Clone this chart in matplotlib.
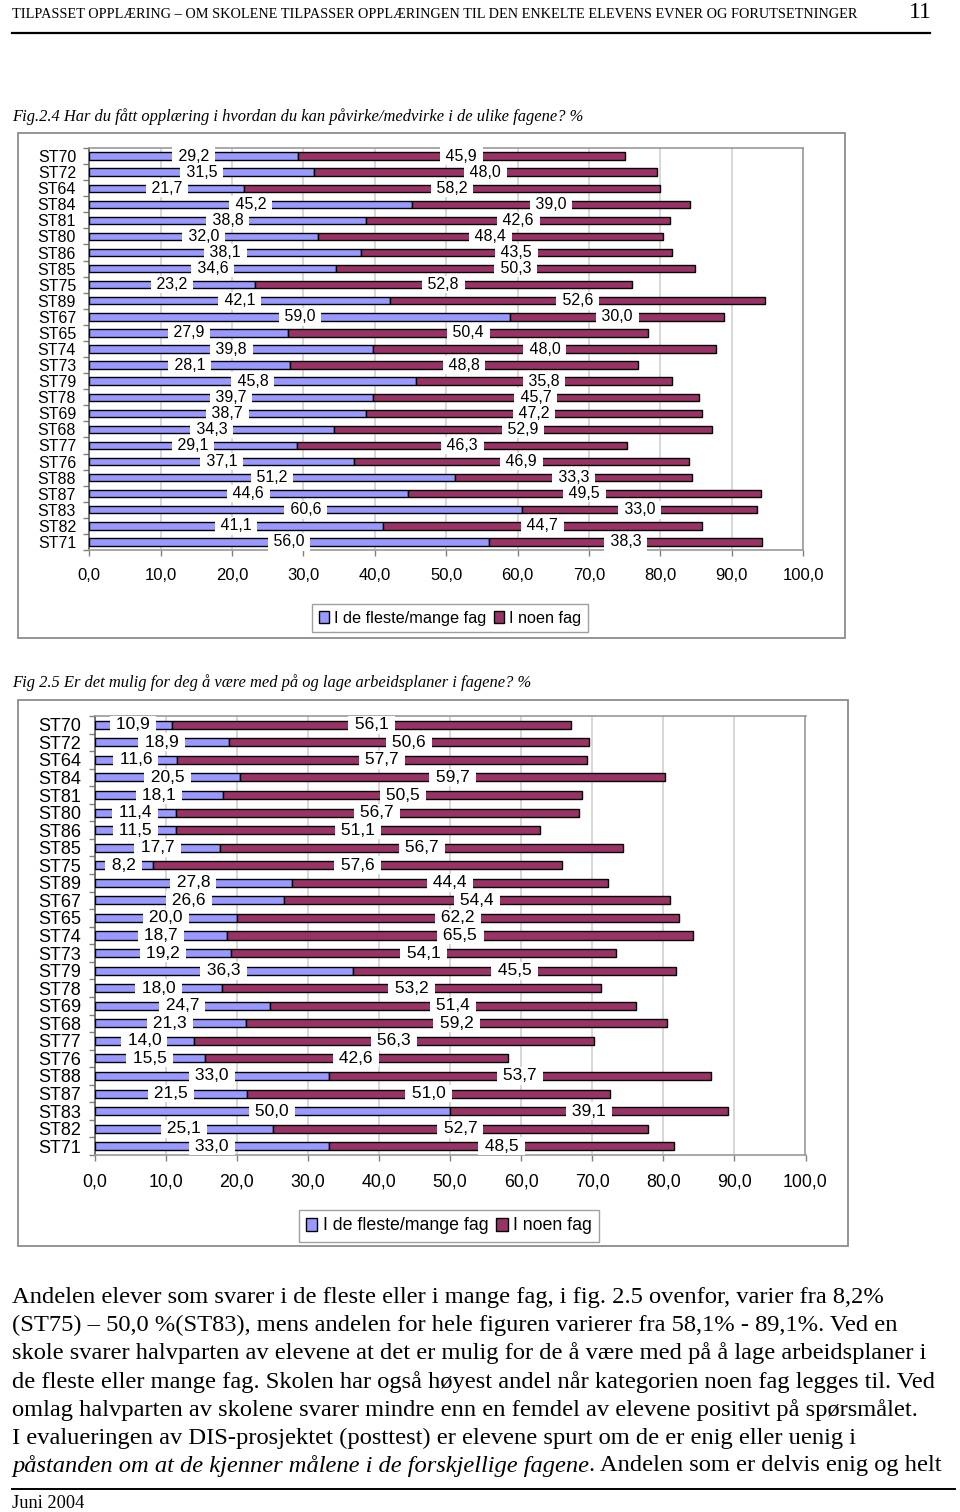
import matplotlib
matplotlib.use('Agg')
import matplotlib.pyplot as plt
import numpy as np
from matplotlib.patches import Rectangle
from matplotlib.lines import Line2D

plt.rcParams['font.family'] = ['Liberation Sans', 'DejaVu Sans']

# ---------------- data ----------------
schools = ["ST70", "ST72", "ST64", "ST84", "ST81", "ST80", "ST86", "ST85", "ST75",
           "ST89", "ST67", "ST65", "ST74", "ST73", "ST79", "ST78", "ST69", "ST68",
           "ST77", "ST76", "ST88", "ST87", "ST83", "ST82", "ST71"]

fig24_many = [29.2, 31.5, 21.7, 45.2, 38.8, 32.0, 38.1, 34.6, 23.2, 42.1, 59.0, 27.9,
              39.8, 28.1, 45.8, 39.7, 38.7, 34.3, 29.1, 37.1, 51.2, 44.6, 60.6, 41.1, 56.0]
fig24_some = [45.9, 48.0, 58.2, 39.0, 42.6, 48.4, 43.5, 50.3, 52.8, 52.6, 30.0, 50.4,
              48.0, 48.8, 35.8, 45.7, 47.2, 52.9, 46.3, 46.9, 33.3, 49.5, 33.0, 44.7, 38.3]

fig25_many = [10.9, 18.9, 11.6, 20.5, 18.1, 11.4, 11.5, 17.7, 8.2, 27.8, 26.6, 20.0,
              18.7, 19.2, 36.3, 18.0, 24.7, 21.3, 14.0, 15.5, 33.0, 21.5, 50.0, 25.1, 33.0]
fig25_some = [56.1, 50.6, 57.7, 59.7, 50.5, 56.7, 51.1, 56.7, 57.6, 44.4, 54.4, 62.2,
              65.5, 54.1, 45.5, 53.2, 51.4, 59.2, 56.3, 42.6, 53.7, 51.0, 39.1, 52.7, 48.5]

series_names = ["I de fleste/mange fag", "I noen fag"]
xtick_values = [0, 10, 20, 30, 40, 50, 60, 70, 80, 90, 100]
xtick_labels = ["0,0", "10,0", "20,0", "30,0", "40,0", "50,0", "60,0", "70,0", "80,0", "90,0", "100,0"]

header_text = ("TILPASSET OPPLÆRING \u2013 OM SKOLENE TILPASSER OPPLÆRINGEN TIL DEN ENKELTE "
               "ELEVENS EVNER OG FORUTSETNINGER")
page_number = "11"
caption1 = "Fig.2.4 Har du fått opplæring i hvordan du kan påvirke/medvirke i de ulike fagene? %"
caption2 = "Fig 2.5 Er det mulig for deg å være med på og lage arbeidsplaner i fagene? %"
paragraph = [
    "Andelen elever som svarer i de fleste eller i mange fag, i fig. 2.5 ovenfor, varier fra 8,2%",
    "(ST75) \u2013 50,0 %(ST83), mens andelen for hele figuren varierer fra 58,1% - 89,1%. Ved en",
    "skole svarer halvparten av elevene at det er mulig for de å være med på å lage arbeidsplaner i",
    "de fleste eller mange fag. Skolen har også høyest andel når kategorien noen fag legges til. Ved",
    "omlag halvparten av skolene svarer mindre enn en femdel av elevene positivt på spørsmålet.",
    "I evalueringen av DIS-prosjektet (posttest) er elevene spurt om de er enig eller uenig i",
]
last_line_italic = "påstanden om at de kjenner målene i de forskjellige fagene"
last_line_rest = ". Andelen som er delvis enig og helt"
footer_text = "Juni 2004"

C_MANY = '#9999FF'
C_SOME = '#993366'

# ---------------- figure ----------------
W, H = 960, 1512
fig = plt.figure(figsize=(W / 100, H / 100), dpi=100)
renderer = fig.canvas.get_renderer()


def fx(px):
    return px / W


def fy(py):
    return 1 - py / H


def add_axes_px(l, t, r, b):
    return fig.add_axes([l / W, 1 - b / H, (r - l) / W, (b - t) / H])


def fit_text(x, y, s, width_px, **kw):
    t = fig.text(fx(x), fy(y), s, fontsize=10, **kw)
    w = t.get_window_extent(renderer).width
    t.set_fontsize(10 * width_px / w)
    return t


def frame(l, t, r, b):
    fig.patches.append(Rectangle((fx(l), fy(b)), (r - l) / W, (b - t) / H,
                                 transform=fig.transFigure, fill=False,
                                 ec='#8c8c8c', lw=1.3, zorder=0))


def hline(x0, x1, y, lw):
    fig.add_artist(Line2D([fx(x0), fx(x1)], [fy(y), fy(y)], color='black', lw=lw,
                          transform=fig.transFigure))


def draw_chart(ax, many, some, fs_lab, fs_ytick, fs_xtick, ypad):
    y = np.arange(len(schools))
    many = np.array(many)
    some = np.array(some)
    ax.barh(y, many, height=0.46, color=C_MANY, edgecolor='black', lw=1.0, zorder=3)
    ax.barh(y, some, left=many, height=0.46, color=C_SOME, edgecolor='black', lw=1.0, zorder=3)
    for yi, a, b in zip(y, many, some):
        for xc, v in ((a / 2, a), (a + b / 2, b)):
            ax.text(xc, yi, " " + f"{v:.1f}".replace('.', ',') + " ", ha='center', va='center',
                    fontsize=fs_lab, zorder=6,
                    bbox=dict(boxstyle='square,pad=0.08', fc='white', ec='none'))
    ax.set_xlim(0, 100)
    ax.set_ylim(len(schools) - 0.5, -0.5)
    ax.set_yticks(y)
    ax.set_yticklabels(schools, fontsize=fs_ytick)
    ax.set_yticks(np.arange(-0.5, len(schools)), minor=True)
    ax.tick_params(axis='y', which='major', length=0, pad=ypad)
    ax.tick_params(axis='y', which='minor', length=4, color='#808080', width=1)
    ax.set_xticks(xtick_values)
    ax.set_xticklabels(xtick_labels, fontsize=fs_xtick)
    ax.tick_params(axis='x', length=4, color='#808080', width=1, pad=9)
    ax.grid(axis='x', color='#d4d4d4', lw=1.3, zorder=0)
    ax.set_axisbelow(True)
    for side in ('top', 'right', 'bottom'):
        ax.spines[side].set_color('#9a9a9a')
        ax.spines[side].set_linewidth(1.2)
    ax.spines['left'].set_color('#606060')
    ax.spines['left'].set_linewidth(1.2)


def legend_at(cx, cy, fs):
    handles = [Rectangle((0, 0), 1, 1, fc=C_MANY, ec='black', lw=1.0),
               Rectangle((0, 0), 1, 1, fc=C_SOME, ec='black', lw=1.0)]
    leg = fig.legend(handles, series_names, loc='center', bbox_to_anchor=(fx(cx), fy(cy)),
                     ncol=2, fontsize=fs, frameon=True, fancybox=False,
                     edgecolor='#a0a0a0', framealpha=1, handlelength=0.65,
                     handleheight=0.75, handletextpad=0.3, columnspacing=0.45,
                     borderpad=0.4, borderaxespad=0)
    leg.get_frame().set_linewidth(1.0)


# ---------------- header ----------------
fit_text(12, 14, header_text, 840, family=['Liberation Serif'], va='center', ha='left')
fig.text(fx(932), fy(12), page_number, fontsize=17, family=['Liberation Serif'],
         va='center', ha='right')
hline(12, 930, 33, 1.6)

# ---------------- chart 1 ----------------
fit_text(12, 117, caption1, 573, family=['Liberation Serif'], style='italic',
         va='center', ha='left')
frame(18, 133, 845, 638)
ax1 = add_axes_px(89.3, 148, 803, 550)
draw_chart(ax1, fig24_many, fig24_some, fs_lab=11.5, fs_ytick=11.5, fs_xtick=12, ypad=9.5)
legend_at(450, 618, 11.7)

# ---------------- chart 2 ----------------
fit_text(12, 683, caption2, 521, family=['Liberation Serif'], style='italic',
         va='center', ha='left')
frame(18, 700, 848, 1246)
ax2 = add_axes_px(94.5, 716, 805.5, 1155)
draw_chart(ax2, fig25_many, fig25_some, fs_lab=12.5, fs_ytick=13, fs_xtick=12.8, ypad=9.5)
legend_at(449, 1226, 12.8)

# ---------------- paragraph ----------------
t0 = fit_text(12, 1297, paragraph[0], 870, family=['Liberation Serif'], va='center', ha='left')
pfs = t0.get_fontsize()
line_y = [1297, 1325, 1353, 1382, 1410, 1438, 1466]
for s, yy in zip(paragraph[1:], line_y[1:-1]):
    fig.text(fx(12), fy(yy), s, fontsize=pfs, family=['Liberation Serif'], va='center', ha='left')
ti = fig.text(fx(12), fy(line_y[-1]), last_line_italic, fontsize=pfs,
              family=['Liberation Serif'], style='italic', va='center', ha='left')
wi = ti.get_window_extent(renderer).width
fig.text(fx(12 + wi), fy(line_y[-1]), last_line_rest, fontsize=pfs,
         family=['Liberation Serif'], va='center', ha='left')

# ---------------- footer ----------------
hline(12, 955, 1489, 1.4)
fit_text(12, 1503, footer_text, 72, family=['Liberation Serif'], va='center', ha='left')

fig.savefig('out.png', dpi=100)
